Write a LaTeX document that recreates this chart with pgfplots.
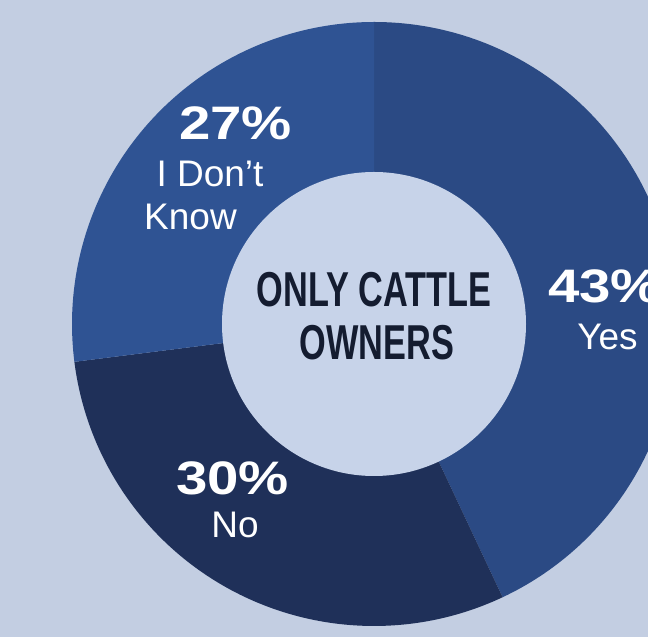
\documentclass[border=0pt]{standalone}
\usepackage{pgfplots}
\pgfplotsset{compat=1.18}
\usepackage{pgfplotstable}
\usepackage{fontspec}
\setmainfont{Liberation Sans}
\newfontfamily\condfont{Liberation Sans}[FakeStretch=0.7]
\newfontfamily\pctfont{Liberation Sans}[FakeStretch=1.2]

\definecolor{bgcol}{HTML}{C3CEE2}
\definecolor{holecol}{HTML}{C7D3E9}
\definecolor{yescol}{HTML}{2B4A84}
\definecolor{nocol}{HTML}{1F3059}
\definecolor{idkcol}{HTML}{2F5393}
\definecolor{txtcol}{HTML}{141C30}

% share of answers, in percent
\pgfplotstableread{
label value
Yes 43
No 30
DontKnow 27
}\sharetable

% centre and radii of the donut, in px (1 unit = 1pt)
\def\cx{374}
\def\cy{313}
\def\Rout{302pt}
\def\Rin{152pt}

\newcommand\donutslice[3]{%
  \fill[#1] (axis cs:\cx,\cy) -- ++(#2:\Rout)
    arc[start angle=#2, end angle=#3, radius=\Rout] -- cycle;}

\begin{document}
\begin{tikzpicture}
\pgfplotstablegetelem{0}{value}\of\sharetable \let\vYes\pgfplotsretval
\pgfplotstablegetelem{1}{value}\of\sharetable \let\vNo\pgfplotsretval
\pgfplotstablegetelem{2}{value}\of\sharetable \let\vIdk\pgfplotsretval
\pgfmathsetmacro\aYes{90-3.6*\vYes}
\pgfmathsetmacro\aNo{\aYes-3.6*\vNo}
\pgfmathsetmacro\aIdk{\aNo-3.6*\vIdk}

\begin{axis}[
    x=1pt, y=1pt,
    xmin=0, xmax=648, ymin=0, ymax=637,
    hide axis,
    clip=true,
  ]
  \fill[bgcol] (axis cs:0,0) rectangle (axis cs:648,637);
  \coordinate (sw) at (axis cs:0,0);
  \coordinate (ne) at (axis cs:648,637);

  \donutslice{yescol}{90}{\aYes}
  \donutslice{nocol}{\aYes}{\aNo}
  \donutslice{idkcol}{\aNo}{\aIdk}
  \fill[holecol] (axis cs:\cx,\cy) circle[radius=\Rin];

  % centre text
  \node[anchor=base, text=txtcol, font=\condfont\bfseries\fontsize{49}{49}\selectfont]
    at (axis cs:374,330) {ONLY CATTLE};
  \node[anchor=base, text=txtcol, font=\condfont\bfseries\fontsize{49}{49}\selectfont]
    at (axis cs:377,277) {OWNERS};

  % segment labels
  \node[anchor=base, white, font=\pctfont\bfseries\fontsize{47}{47}\selectfont]
    at (axis cs:235.5,497) {\vIdk\%};
  \node[anchor=base, white, font=\fontsize{37}{37}\selectfont]
    at (axis cs:210,450) {I Don’t};
  \node[anchor=base, white, font=\fontsize{37}{37}\selectfont]
    at (axis cs:190.5,407) {Know};

  \node[anchor=base west, inner sep=0pt, white, font=\pctfont\bfseries\fontsize{47}{47}\selectfont]
    at (axis cs:548,334) {\vYes\%};
  \node[anchor=base, white, font=\fontsize{37}{37}\selectfont]
    at (axis cs:607.5,287) {Yes};

  \node[anchor=base, white, font=\pctfont\bfseries\fontsize{47}{47}\selectfont]
    at (axis cs:232.5,142) {\vNo\%};
  \node[anchor=base, white, font=\fontsize{37}{37}\selectfont]
    at (axis cs:235,99) {No};
\end{axis}
\pgfresetboundingbox
\useasboundingbox (sw) rectangle (ne);
\end{tikzpicture}
\end{document}
